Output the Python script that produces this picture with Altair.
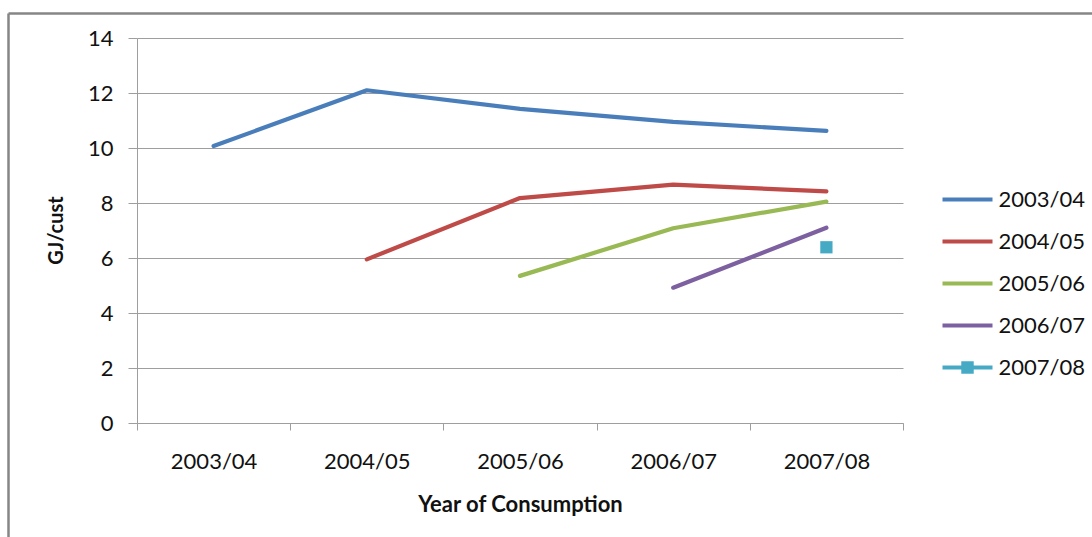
import altair as alt
import pandas as pd

# ---- data ----
years = ["2003/04", "2004/05", "2005/06", "2006/07", "2007/08"]
series_names = ["2003/04", "2004/05", "2005/06", "2006/07", "2007/08"]
s_2003_04 = [10.07, 12.10, 11.42, 10.95, 10.62]
s_2004_05 = [None, 5.95, 8.18, 8.67, 8.42]
s_2005_06 = [None, None, 5.35, 7.08, 8.05]
s_2006_07 = [None, None, None, 4.92, 7.10]
s_2007_08 = [None, None, None, None, 6.39]
colors = ["#4A7EBB", "#BE4B48", "#98B954", "#7D60A0", "#46AAC5"]
# legend glyphs: plain line for the line series, line with square marker for 2007/08
legend_paths = ["M-2,0H2", "M-2,0H2", "M-2,0H2", "M-2,0H2",
                "M-2,0H2M-0.33,-0.33H0.33V0.33H-0.33Z"]

all_series = [s_2003_04, s_2004_05, s_2005_06, s_2006_07, s_2007_08]
rows = []
for name, vals in zip(series_names, all_series):
    for yr, v in zip(years, vals):
        if v is not None:
            rows.append({"year": yr, "series": name, "gj": v})
df = pd.DataFrame(rows)

FONT = "Lato"
GRID = "#9E9E9E"
TEXT = "#111111"
LW = 4.2

x_enc = alt.X(
    "year:N",
    sort=years,
    bandPosition=0.5,
    scale=alt.Scale(type="band", domain=years, paddingInner=0, paddingOuter=0),
    axis=alt.Axis(
        title="Year of Consumption",
        labelAngle=0,
        tickBand="extent",
        grid=False,
        tickSize=7,
        tickColor=GRID,
        domainColor=GRID,
        labelPadding=31,
        labelBaseline="middle",
        labelFont=FONT,
        labelFontSize=22,
        labelColor=TEXT,
        titleFont=FONT,
        titleFontSize=22,
        titleFontWeight="bold",
        titleColor=TEXT,
        titleY=81,
        titleBaseline="middle",
    ),
)

y_enc = alt.Y(
    "gj:Q",
    scale=alt.Scale(domain=[0, 14], nice=False),
    axis=alt.Axis(
        title="GJ/cust",
        values=[0, 2, 4, 6, 8, 10, 12, 14],
        grid=True,
        gridColor=GRID,
        tickColor=GRID,
        domainColor=GRID,
        tickSize=9,
        labelPadding=15,
        labelFont=FONT,
        labelFontSize=22,
        labelColor=TEXT,
        titleFont=FONT,
        titleFontSize=20,
        titleFontWeight="bold",
        titleColor=TEXT,
        titleAngle=-90,
        titleX=-81,
        titleY=192,
        titleAlign="center",
        titleBaseline="middle",
    ),
)

legend = alt.Legend(
    title=None,
    orient="none",
    legendX=815.5,
    legendY=146.5,
    padding=0,
    symbolSize=625,
    symbolStrokeWidth=LW,
    symbolOpacity=1,
    labelOffset=16,
    rowPadding=16,
    labelFont=FONT,
    labelFontSize=22,
    labelColor=TEXT,
)
cscale = alt.Scale(domain=series_names, range=colors)

lines = alt.Chart(df).mark_line(strokeWidth=LW, strokeCap="round", strokeJoin="round").encode(
    x=x_enc, y=y_enc, stroke=alt.Stroke("series:N", scale=cscale, legend=legend)
)
square = (
    alt.Chart(df)
    .transform_filter(alt.datum.series == "2007/08")
    .mark_square(size=150, opacity=1, filled=True)
    .encode(x=x_enc, y=y_enc, fill=alt.Fill("series:N", scale=cscale, legend=legend))
)
legend_layer = (
    alt.Chart(df)
    .transform_filter("false")
    .mark_point(filled=True, strokeWidth=LW, opacity=1)
    .encode(
        x=x_enc,
        y=y_enc,
        fill=alt.Fill("series:N", scale=cscale, legend=legend),
        stroke=alt.Stroke("series:N", scale=cscale, legend=legend),
        shape=alt.Shape("series:N", scale=alt.Scale(domain=series_names, range=legend_paths), legend=legend),
    )
)

border_data = alt.Data(values=[{}])
border_top = alt.Chart(border_data).mark_rule(color="#868686", strokeWidth=2.5).encode(
    x=alt.value(-128.5), x2=alt.value(980), y=alt.value(-24.5)
)
border_left = alt.Chart(border_data).mark_rule(color="#868686", strokeWidth=2.5).encode(
    x=alt.value(-128.5), y=alt.value(-24.5), y2=alt.value(520)
)

chart = (
    alt.layer(lines, square, legend_layer, border_top, border_left)
    .properties(
        width=766,
        height=385,
        autosize=alt.AutoSizeParams(type="none"),
        padding={"left": 137, "top": 38, "right": 189, "bottom": 114},
        background="white",
    )
    .configure_view(stroke=None)
)

chart.save("out.html", embed_options={"renderer": "svg", "actions": False})
